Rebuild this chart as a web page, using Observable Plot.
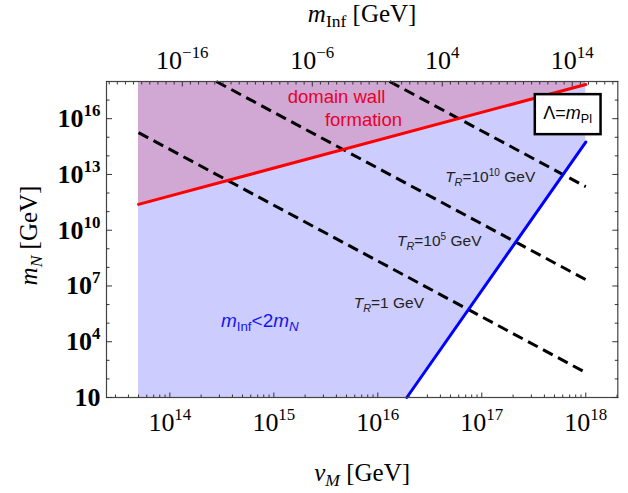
<!DOCTYPE html>
<html><head><meta charset="utf-8">
<script src="https://cdn.jsdelivr.net/npm/d3@7"></script>
<script src="https://cdn.jsdelivr.net/npm/@observablehq/plot@0.6"></script>
<style>
body{margin:0;background:#fff;}
#chart svg{display:block;}
</style></head><body><div id="chart"></div>
<script>
// ---------- data ----------
// shaded regions (v_M in GeV, m_N in GeV)
const lavenderV = [5e13, 10**16.279, 1e18];
const lavenderLo = [10, 10, 10**14.74];
const lavenderHi = [1e18, 1e18, 1e18];
const purpleV = [5e13, 1e18];
const purpleLo = [10**11.39, 10**17.84];
const purpleHi = [1e18, 1e18];
// red line: domain wall formation
const redV = [5e13, 1e18];
const redMN = [10**11.39, 10**17.84];
// blue line: m_Inf = 2 m_N
const blueV = [10**16.279, 1e18];
const blueMN = [10, 10**14.74];
// dashed reheating-temperature lines
const trNames = ["1", "1e5", "1e10"];
const trV = [[5e13, 1e18], [10**14.447, 1e18], [10**16.113, 1e18]];
const trMN = [[10**15.25, 10**2.34], [1e18, 10**7.34], [1e18, 10**12.34]];
// top axis: log10 m_Inf = mInfSlope*log10 v_M + mInfOffset
const mInfSlope = 8, mInfOffset = -128.96;
const topTickExp = [-16, -6, 4, 14];
const bottomTickExp = [14, 15, 16, 17, 18];
const leftTickExp = [1, 4, 7, 10, 13, 16];
// annotations
const dwText = ["domain wall", "formation"];
const dwX = [10**15.603, 10**15.8625];
const dwY = [10**17.155, 10**15.917];
const trText = ["*T*_{*R*}=1 GeV", "*T*_{*R*}=10^{5} GeV", "*T*_{*R*}=10^{10} GeV"];
const trTextX = [10**16.106, 10**16.591, 10**17.081];
const trTextY = [10**6.062, 10**9.40, 10**12.847];
const infText = ["*m*_{Inf}<2*m*_{*N*}"];
const infX = [10**14.865], infY = [10**5.147];
const lamText = ["Λ=*m*_{Pl}"];
const lamX = [10**17.826], lamY = [10**16.31];

// ---------- build tables ----------
const lav = lavenderV.map((v, i) => ({v, lo: lavenderLo[i], hi: lavenderHi[i]}));
const pur = purpleV.map((v, i) => ({v, lo: purpleLo[i], hi: purpleHi[i]}));
const red = redV.map((v, i) => ({v, m: redMN[i]}));
const blue = blueV.map((v, i) => ({v, m: blueMN[i]}));
const tr = trNames.flatMap((n, j) => trV[j].map((v, i) => ({n, v, m: trMN[j][i]})));
const xDomain = [10**13.391, 10**18.308];
const bottomMajor = bottomTickExp.map(e => 10**e);
const bottomMinor = [];
for (let k = 13; k <= 18; k++) for (let m = 2; m <= 9; m++) { const v = m * 10**k; if (v > xDomain[0] && v < xDomain[1]) bottomMinor.push(v); }
const leftMajor = leftTickExp.map(e => 10**e);
const leftMinor = d3.range(2, 19).filter(e => !leftTickExp.includes(e)).map(e => 10**e);
const vOfMInf = e => 10**((e - mInfOffset) / mInfSlope);
const topTicks = topTickExp.map(e => ({e, v: vOfMInf(e)}));
const topMajor = topTicks.map(d => d.v);
const topMinor = d3.range(-9, 55).filter(k => k % 16 !== 0).map(k => vOfMInf(-16 + k * 0.625))
  .filter(v => v > xDomain[0] && v < xDomain[1]);
const sup = e => "10^{" + (e < 0 ? "−" + (-e) : e) + "}";

const tickStroke = "#333";
const serif = "'Liberation Serif', 'Times New Roman', serif";
const sans = "'Liberation Sans', Arial, sans-serif";
const plot = Plot.plot({
  width: 628, height: 493,
  marginLeft: 106, marginRight: 10.7, marginTop: 81, marginBottom: 96,
  style: {fontFamily: serif, background: "white", overflow: "visible"},
  x: {type: "log", domain: xDomain},
  y: {type: "log", domain: [10, 1e18]},
  marks: [
    Plot.areaY(lav, {x: "v", y1: "lo", y2: "hi", fill: "#ccccff"}),
    Plot.areaY(pur, {x: "v", y1: "lo", y2: "hi", fill: "#d1a7d3"}),
    Plot.line(tr, {x: "v", y: "m", z: "n", stroke: "black", strokeWidth: 3, strokeDasharray: "11,6", strokeLinecap: "butt"}),
    Plot.line(red, {x: "v", y: "m", stroke: "#ff0000", strokeWidth: 3}),
    Plot.line(blue, {x: "v", y: "m", stroke: "#0000ff", strokeWidth: 3}),
    Plot.frame({stroke: "#444", strokeWidth: 1.2}),
    // ticks (inward)
    Plot.axisX(bottomMajor, {anchor: "bottom", tickSize: -4.5, fill: "none", label: null, stroke: tickStroke}),
    Plot.axisX(bottomMinor, {anchor: "bottom", tickSize: -2.5, fill: "none", label: null, stroke: tickStroke}),
    Plot.axisX(topMajor, {anchor: "top", tickSize: -4.5, fill: "none", label: null, stroke: tickStroke}),
    Plot.axisX(topMinor, {anchor: "top", tickSize: -2.5, fill: "none", label: null, stroke: tickStroke}),
    Plot.axisY(leftMajor, {anchor: "left", tickSize: -6, fill: "none", label: null, stroke: tickStroke}),
    Plot.axisY(leftMinor, {anchor: "left", tickSize: -3.5, fill: "none", label: null, stroke: tickStroke}),
    Plot.axisY(leftMajor, {anchor: "right", tickSize: -6, fill: "none", label: null, stroke: tickStroke}),
    Plot.axisY(leftMinor, {anchor: "right", tickSize: -3.5, fill: "none", label: null, stroke: tickStroke}),
    // tick labels
    Plot.axisX(bottomMajor, {anchor: "bottom", tickSize: 0, tickPadding: 15, label: null,
      tickFormat: d => sup(Math.round(Math.log10(d))), fontFamily: serif, fontSize: 26, fill: "black"}),
    Plot.text(topTicks, {x: "v", text: d => sup(d.e), frameAnchor: "top", lineAnchor: "bottom", textAnchor: "middle",
      dy: -12.7, fontFamily: serif, fontSize: 26, fill: "black"}),
    Plot.axisY(leftMajor, {anchor: "left", tickSize: 0, tickPadding: 6, label: null,
      tickFormat: d => { const e = Math.round(Math.log10(d)); return e === 1 ? "10" : sup(e); },
      fontFamily: serif, fontSize: 26, fontWeight: "bold", fill: "black"}),
    // axis titles
    Plot.text(["*v*_{*M*} [GeV]"], {text: d => d, frameAnchor: "bottom", textAnchor: "middle", lineAnchor: "bottom", dy: 83, fontSize: 25, fill: "black"}),
    Plot.text(["*m*_{Inf} [GeV]"], {text: d => d, frameAnchor: "top", textAnchor: "middle", lineAnchor: "bottom", dy: -60, fontSize: 25, fill: "black"}),
    Plot.text(["*m*_{*N*} [GeV]"], {text: d => d, frameAnchor: "left", textAnchor: "middle", lineAnchor: "middle", rotate: -90, dx: -78, dy: -4, fontSize: 25, fill: "black"}),
    // annotations
    Plot.text(dwText, {x: (d, i) => dwX[i], y: (d, i) => dwY[i], text: d => d, fill: "#e8002a", fontSize: 18.5, fontFamily: sans}),
    Plot.text(trText, {x: (d, i) => trTextX[i], y: (d, i) => trTextY[i], text: d => d, fill: "#222", fontSize: 15.5, fontFamily: sans}),
    Plot.text(infText, {x: (d, i) => infX[i], y: (d, i) => infY[i], text: d => d, fill: "#1414f0", fontSize: 19, fontFamily: sans}),
    Plot.text(lamText, {x: (d, i) => lamX[i], y: (d, i) => lamY[i], text: d => d, fill: "black", fontSize: 18, fontFamily: sans})
  ]
});
document.getElementById("chart").appendChild(plot);

// ---------- rich text: ^{sup}, _{sub}, *italic* ----------
const ns = "http://www.w3.org/2000/svg";
function rich(el) {
  const s = el.textContent;
  if (!/[\^_*]/.test(s)) return null;
  const F = parseFloat(getComputedStyle(el).fontSize);
  el.textContent = "";
  const re = /\^\{([^}]*)\}|_\{([^}]*)\}|\*([^*]+)\*|([^\^_*]+)/g;
  let cur = 0, m;
  while ((m = re.exec(s))) {
    let content, size = F, shift = 0, italic = false;
    if (m[1] !== undefined) { content = m[1]; size = 0.65 * F; shift = -0.42 * F; }
    else if (m[2] !== undefined) { content = m[2]; size = 0.7 * F; shift = 0.22 * F; }
    else if (m[3] !== undefined) { content = m[3]; italic = true; }
    else content = m[4];
    if (/^\*.*\*$/.test(content)) { content = content.slice(1, -1); italic = true; }
    const t = document.createElementNS(ns, "tspan");
    t.textContent = content;
    t.setAttribute("font-size", size.toFixed(2));
    if (italic) t.setAttribute("font-style", "italic");
    if (Math.abs(shift - cur) > 1e-6) t.setAttribute("dy", (shift - cur).toFixed(2));
    cur = shift;
    el.appendChild(t);
  }
  return el;
}
plot.querySelectorAll("text").forEach(rich);

// box around Λ = m_Pl
const lamEl = Array.from(plot.querySelectorAll("text")).find(t => t.textContent.startsWith("Λ"));
if (lamEl) {
  const sb = plot.getBoundingClientRect();
  const b = lamEl.getBoundingClientRect();
  const cx = b.left + b.width / 2 - sb.left, cy = b.top + b.height / 2 - sb.top;
  const w = b.width + 17, h = 40;
  const r = document.createElementNS(ns, "rect");
  r.setAttribute("x", cx - w / 2); r.setAttribute("y", cy - h / 2);
  r.setAttribute("width", w); r.setAttribute("height", h);
  r.setAttribute("fill", "white"); r.setAttribute("stroke", "black"); r.setAttribute("stroke-width", 2.5);
  lamEl.closest("g").before(r);
}
</script></body></html>
